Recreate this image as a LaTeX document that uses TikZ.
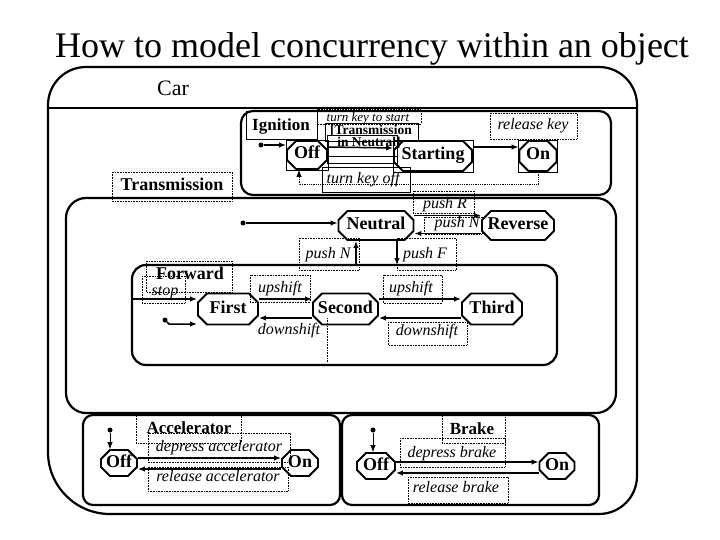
\documentclass[tikz,border=0pt]{standalone}
\usepackage{fontspec}
\setmainfont{Liberation Serif}
\usetikzlibrary{shapes.misc,arrows.meta}

\newcommand\stfont{\fontsize{18}{20}\selectfont\bfseries}
\newcommand\lblfont{\fontsize{16}{18}\selectfont\itshape}

\tikzset{
  region/.style={line width=2.2pt},
  state/.style={draw, chamfered rectangle, chamfered rectangle xsep=4pt,
    chamfered rectangle ysep=5pt, line width=1.8pt, inner sep=0pt,
    font=\stfont, text height=12pt, text depth=4pt},
  regionname/.style={inner sep=0pt, font=\stfont, text height=12pt, text depth=4pt},
  lbl/.style={inner sep=0pt, font=\lblfont, text height=11pt, text depth=3.5pt},
  tbox/.style={densely dotted, line width=0.6pt},
  framebox/.style={line width=0.7pt},
  trans/.style={-{Latex[length=7pt,width=5.5pt]}, line width=1.5pt},
  initdot/.style={circle, fill, inner sep=0pt, minimum size=5pt},
}

\begin{document}
\begin{tikzpicture}[x=1pt,y=-1pt]
\useasboundingbox (0,0) rectangle (720,540);

\node[font=\fontsize{36}{40}\selectfont, anchor=base] (title) at (372,58)
  {How to model concurrency within an object};

% Car
\draw[region] (48,300) [rounded corners=38] -- (48,67) -- (637,67) -- (637,514)
  [rounded corners=62] -- (48,514) [rounded corners=38] -- cycle;
\draw[region] (48,108) -- (637,108);
\node[font=\fontsize{22}{24}\selectfont] (carlbl) at (173,88) {Car};

% Ignition
\draw[region, rounded corners=12] (241,111) rectangle (611,195);
\draw[framebox] (246,111) rectangle (317,139);
\node[regionname, font=\fontsize{17}{19}\selectfont\bfseries] (ignlbl) at (281,127) {Ignition};
\node[state, minimum width=40, minimum height=28] (ignoff) at (307,155) {Off};
\node[state, minimum width=78, minimum height=30] (starting) at (433,156) {Starting};
\node[state, minimum width=37, minimum height=30] (ignon) at (538,156) {On};
\foreach \s in {ignoff,starting,ignon}
  \draw[framebox] (\s.west |- \s.north) rectangle (\s.east |- \s.south);
\node[initdot] (ignini) at (261,145) {};
\draw[trans] (ignini) -- (ignoff.west |- ignini);
\draw[tbox] (317,109) rectangle (421,124);
\draw[framebox] (325,123) rectangle (418,141);
\draw[framebox] (327,135) rectangle (397,163);
\draw[framebox] (327,156) -- (397,156);
\node[inner sep=0pt, font=\fontsize{13}{14}\selectfont\itshape] (startlbl) at (368,118.5) {turn key to start};
\node[inner sep=0pt, font=\fontsize{13.5}{14}\selectfont\bfseries] (guardA) at (371,130.5) {[Transmission};
\node[inner sep=0pt, font=\fontsize{13.5}{14}\selectfont\bfseries] (guardB) at (369,143) {in Neutral]};
\draw[trans] ([yshift=8]ignoff.east) -- ([yshift=8]starting.west);
\draw[trans] ([yshift=9]starting.east) -- ([yshift=9]ignon.west);
\draw[tbox] (490,113) rectangle (577,139);
\node[lbl] (releaselbl) at (533,126) {release key};
\draw[trans, line width=0.8pt, densely dotted] (ignon.south) -- ++(0,13)
  -| ([xshift=-8]ignoff.south);
\draw[framebox] (322,167) rectangle (410,192);
\node[lbl] (offlbl) at (363,180) {turn key off};

% Transmission
\draw[tbox] (112,172) rectangle (232,201);
\node[regionname] (translbl) at (172,187) {Transmission};
\draw[region, rounded corners=20] (66,198) rectangle (616,413);
\node[state, minimum width=75, minimum height=29] (neutral) at (376,225.5) {Neutral};
\node[state, minimum width=72, minimum height=29] (reverse) at (518,225.5) {Reverse};
\node[initdot] (transini) at (243,223) {};
\draw[trans] (transini) -- (neutral.west |- transini);
\draw[trans] ([yshift=10]neutral.east) -- ([yshift=10]reverse.west);
\draw[trans] ([yshift=-8]reverse.west) -- ([yshift=-8]neutral.east);
\draw[tbox] (413,191) rectangle (474,213);
\node[lbl] (pushR) at (445,205) {push R};
\draw[tbox] (424,217) rectangle (482,234);
\node[lbl] (pushNa) at (457,224) {push N};
\coordinate (fwdN) at (356,265);
\coordinate (fwdF) at (397,265);
\draw[trans] (fwdN) -- (neutral.south -| fwdN);
\draw[trans] (neutral.south -| fwdF) -- (fwdF);
\draw[tbox] (299,238) rectangle (359,270);
\node[lbl] (pushNb) at (328,255) {push N};
\draw[tbox] (397,238) rectangle (456,270);
\node[lbl] (pushF) at (425,255) {push F};

% Forward
\draw[region, rounded corners=14] (132,265) rectangle (557,365);
\draw[tbox] (146,261) rectangle (232,292);
\node[regionname] (fwdlbl) at (190,275) {Forward};
\draw[tbox] (142,276) rectangle (185,303);
\node[lbl] (stoplbl) at (165,292) {stop};
\node[state, minimum width=60, minimum height=31] (first) at (228,309) {First};
\node[state, minimum width=65, minimum height=31] (second) at (345.5,309) {Second};
\node[state, minimum width=60, minimum height=31] (third) at (492,309) {Third};
\coordinate (fwdW) at (132,299);
\draw[trans] (fwdW) -- (first.west |- fwdW);
\node[initdot] (fwdini) at (165,320) {};
\draw[trans] (fwdini) -- ++(4,4) -- ([yshift=-15]first.west);
\draw[trans] ([yshift=10]first.east) -- ([yshift=10]second.west);
\draw[trans] ([yshift=-9]second.west) -- ([yshift=-9]first.east);
\draw[trans] ([yshift=10]second.east) -- ([yshift=10]third.west);
\draw[trans] ([yshift=-9]third.west) -- ([yshift=-9]second.east);
\draw[tbox] (250,275) rectangle (310,302);
\node[lbl] (upA) at (280,289) {upshift};
\draw[tbox] (327,318) -- (327,362);
\node[lbl] (downA) at (289,331) {downshift};
\draw[tbox] (383,275) rectangle (442,303);
\node[lbl] (upB) at (411,289) {upshift};
\draw[tbox] (388,322) rectangle (467,345);
\node[lbl] (downB) at (427,332) {downshift};

% Accelerator
\draw[region, rounded corners=10] (83,415) rectangle (340,505);
\draw[tbox] (136,413) rectangle (241,443);
\node[regionname, font=\fontsize{17}{19}\selectfont\bfseries] (acclbl) at (189,429) {Accelerator};
\node[initdot] (accini) at (110,430) {};
\node[state, minimum width=36, minimum height=24] (accoff) at (119,463) {Off};
\node[state, minimum width=36, minimum height=24] (accon) at (300,463) {On};
\draw[trans, line width=0.8pt] (accini) -- (accini |- accoff.north);
\draw[trans] ([yshift=5]accoff.east) -- ([yshift=5]accon.west);
\draw[trans] ([yshift=-6]accon.west) -- ([yshift=-6]accoff.east);
\draw[tbox] (148,433) rectangle (290,462);
\node[lbl] (depacc) at (219,448) {depress accelerator};
\draw[tbox] (148,467) rectangle (288,491);
\node[lbl] (relacc) at (218,478) {release accelerator};

% Brake
\draw[region, rounded corners=10] (342,415) rectangle (599,505);
\draw[tbox] (442,413) rectangle (505,443);
\node[regionname, font=\fontsize{17}{19}\selectfont\bfseries] (brakelbl) at (472,430) {Brake};
\node[initdot] (brakeini) at (373,430) {};
\node[state, minimum width=38, minimum height=23] (brakeoff) at (376,466) {Off};
\node[state, minimum width=35, minimum height=23] (brakeon) at (557,466) {On};
\draw[trans, line width=0.8pt] (brakeini) -- (brakeini |- brakeoff.north);
\draw[trans] ([yshift=4]brakeoff.east) -- ([yshift=4]brakeon.west);
\draw[trans] ([yshift=-7]brakeon.west) -- ([yshift=-7]brakeoff.east);
\draw[tbox] (400,438) rectangle (505,467);
\node[lbl] (depbrake) at (452,454) {depress brake};
\draw[tbox] (408,477) rectangle (508,503);
\node[lbl] (relbrake) at (456,489) {release brake};
\end{tikzpicture}
\end{document}
